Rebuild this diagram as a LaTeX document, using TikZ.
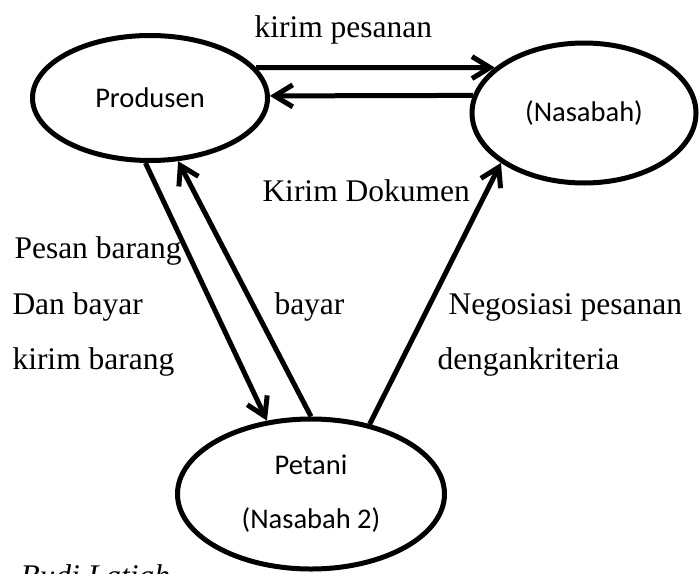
\documentclass[tikz,border=0pt]{standalone}
\usepackage{fontspec}
\setmainfont{Liberation Serif}
\newfontfamily\carlito{Carlito}
\usetikzlibrary{shapes.geometric,arrows.meta}
\begin{document}
\begin{tikzpicture}[x=.5pt,y=-.5pt,line cap=butt,line join=miter,line width=2.5pt,>={Straight Barb[length=9pt,width=11pt]},font=\fontsize{15.75}{19}\selectfont]
    \useasboundingbox (0,0) rectangle (700,573);
    \tikzset{pihak/.style={draw,ellipse,inner sep=0pt,align=center,font={\carlito\fontsize{14.25}{27}\selectfont}},
        ket/.style={anchor=base west,inner sep=0pt}}
    \node[pihak,minimum width=117.5pt,minimum height=62.5pt] (prod) at (150,98) {Produsen};
    \node[pihak,minimum width=112pt,minimum height=70pt] (nas) at (584,113) {(Nasabah)};
    \node[pihak,minimum width=133.5pt,minimum height=75pt] (pet) at (311,494) {Petani\\(Nasabah 2)};
    \draw[->] (prod.16) -- (nas.153);
    \draw[->] (nas.171) -- (prod.1);
    \draw[->] (prod.266) -- (pet.121);
    \draw[->] (pet.90) -- (prod.294);
    \draw[->] (pet.50) -- (nas.211);
    \node[ket] (kirpes) at (252,37) {kirim pesanan};
    \node[ket] (kirdok) at (260,201) {Kirim Dokumen};
    \node[ket] (pesbar) at (12,258) {Pesan barang};
    \node[ket] (danbay) at (10,314) {Dan bayar};
    \node[ket] (kirbar) at (10,369) {kirim barang};
    \node[ket] (bayar) at (272,314) {bayar};
    \node[ket] (nego) at (446,314) {Negosiasi pesanan};
    \node[ket] (krit) at (435,369) {dengankriteria};
    \node[ket,font=\fontsize{15.75}{19}\selectfont\itshape] (budi) at (18,586) {Budi Latiah};
\end{tikzpicture}
\end{document}
